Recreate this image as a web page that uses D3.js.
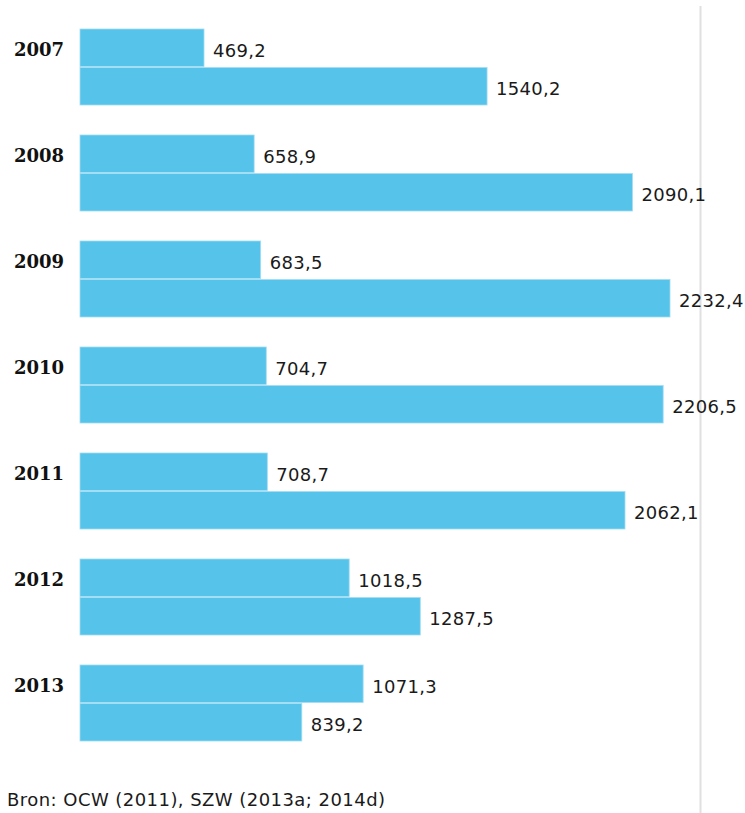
<!DOCTYPE html>
<html>
<head>
<meta charset="utf-8">
<script src="https://cdn.jsdelivr.net/npm/d3@7"></script>
<style>
  html, body { margin: 0; padding: 0; background: #fff; }
  svg { display: block; }
</style>
</head>
<body>
<svg id="chart" width="745" height="813"></svg>
<script>
const years = ["2007", "2008", "2009", "2010", "2011", "2012", "2013"];
const seriesA = [469.2, 658.9, 683.5, 704.7, 708.7, 1018.5, 1071.3];
const seriesB = [1540.2, 2090.1, 2232.4, 2206.5, 2062.1, 1287.5, 839.2];
const sourceText = "Bron: OCW (2011), SZW (2013a; 2014d)";

const svg = d3.select("#chart");
const fmt = v => d3.format(".1f")(v).replace(".", ",");

const x = d3.scaleLinear().domain([0, 2232.4]).range([80, 670]);
const y = d3.scaleBand().domain(years).range([29, 741]).paddingInner(30 / 106).paddingOuter(0);
const inner = d3.scaleBand().domain([0, 1]).range([0, y.bandwidth()]).paddingInner(0.03);

// right border line
svg.append("line")
  .attr("x1", 700.5).attr("x2", 700.5)
  .attr("y1", 6).attr("y2", 813)
  .attr("stroke", "#e0e0e0").attr("stroke-width", 2);

const rows = years.map((yr, i) => ({ yr, vals: [seriesA[i], seriesB[i]] }));

const g = svg.selectAll("g.year").data(rows).join("g")
  .attr("class", "year")
  .attr("transform", d => `translate(0,${y(d.yr)})`);

g.selectAll("rect").data(d => d.vals).join("rect")
  .attr("x", x(0))
  .attr("y", (d, j) => inner(j))
  .attr("width", d => x(d) - x(0))
  .attr("height", inner.bandwidth())
  .attr("fill", "#56c3ea")
  .attr("stroke", "#9fdcf3")
  .attr("stroke-width", 0.8);

g.selectAll("text.val").data(d => d.vals).join("text")
  .attr("class", "val")
  .attr("x", d => x(d) + 9)
  .attr("y", (d, j) => inner(j) + inner.bandwidth() / 2 + 9)
  .attr("font-family", "DejaVu Sans, Verdana, sans-serif")
  .attr("font-size", 18)
  .attr("letter-spacing", 0.3)
  .attr("fill", "#1a1a1a")
  .text(d => fmt(d));

g.append("text")
  .attr("x", 14)
  .attr("y", inner(0) + inner.bandwidth() / 2 + 8)
  .attr("font-family", "DejaVu Serif, Georgia, serif")
  .attr("font-weight", "bold")
  .attr("font-size", 18)
  .attr("fill", "#111")
  .text(d => d.yr);

svg.append("text")
  .attr("x", 7).attr("y", 806)
  .attr("font-family", "DejaVu Sans, Verdana, sans-serif")
  .attr("font-size", 18)
  .attr("letter-spacing", 0.45)
  .attr("fill", "#1a1a1a")
  .text(sourceText);
</script>
</body>
</html>
